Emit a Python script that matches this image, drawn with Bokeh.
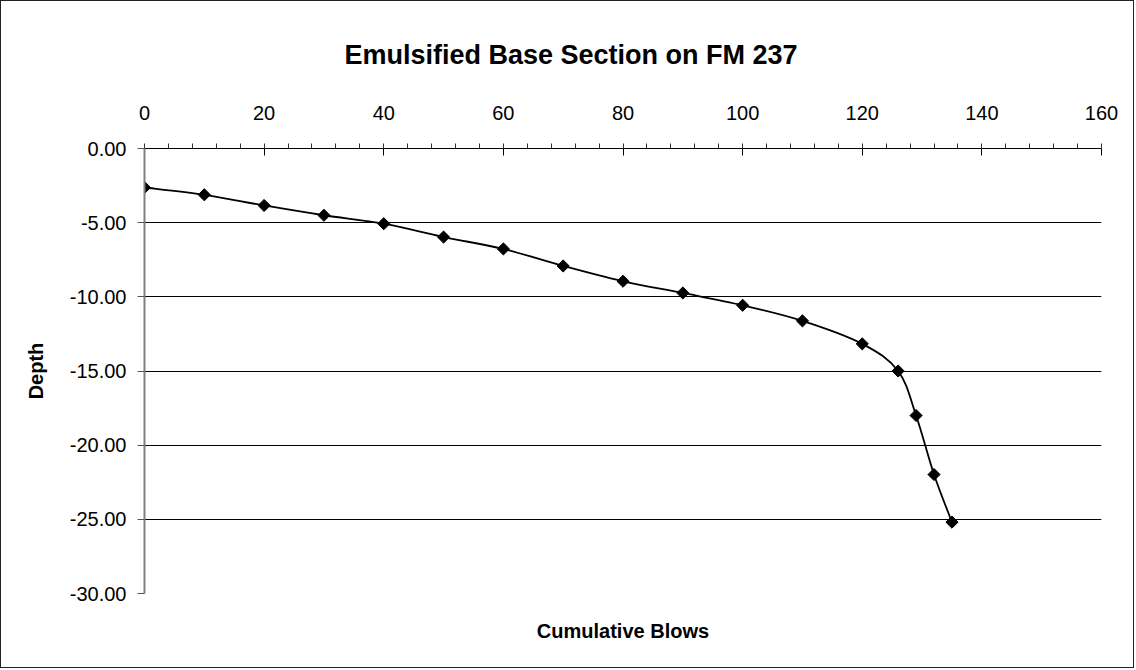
import numpy as np
from bokeh.plotting import figure
from bokeh.models import Range1d, FixedTicker, NumeralTickFormatter, Title, Grid
from bokeh.embed import file_html
from bokeh.resources import INLINE

# ---- data ----
blows = [0, 10, 20, 30, 40, 50, 60, 70, 80, 90, 100, 110, 120, 126, 129, 132, 135]
depth = [-2.63, -3.12, -3.84, -4.50, -5.07, -5.97, -6.77, -7.92, -8.95, -9.74,
         -10.57, -11.62, -13.17, -15.00, -18.00, -21.98, -25.19]
x_ticks = [0, 20, 40, 60, 80, 100, 120, 140, 160]
y_ticks = [0, -5, -10, -15, -20, -25, -30]
title_text = "Emulsified Base Section on FM 237"
x_title = "Cumulative Blows"
y_title = "Depth"

FONT = "Liberation Sans"

p = figure(width=1134, height=668,
           x_range=Range1d(x_ticks[0], x_ticks[-1]),
           y_range=Range1d(y_ticks[-1], y_ticks[0]),
           x_axis_location="above",
           output_backend="svg", toolbar_location=None,
           min_border_left=143, min_border_right=34,
           min_border_top=147, min_border_bottom=76)
p.styles = {"border": "1px solid #222"}
p.background_fill_color = "white"
p.border_fill_color = "white"
p.outline_line_color = None

# title
p.title.text = title_text
p.title.align = "left"
p.title.offset = 200
p.title.text_font = FONT
p.title.text_font_size = "27px"
p.title.text_font_style = "bold"
p.title.text_color = "black"
p.title.standoff = 66

# bottom axis title
p.add_layout(Title(text=x_title, align="center", text_font=FONT,
                   text_font_size="20px", text_font_style="bold",
                   text_color="black", standoff=48), "below")

# x axis (top)
xa = p.xaxis[0]
xa.ticker = FixedTicker(ticks=x_ticks, minor_ticks=list(range(x_ticks[0], x_ticks[-1] + 1, 4)))
xa.major_label_text_font = FONT
xa.major_label_text_font_size = "20px"
xa.major_label_text_color = "black"
xa.major_label_standoff = 24
xa.axis_line_color = "black"
xa.axis_line_width = 1
xa.major_tick_in = 7
xa.major_tick_out = 0
xa.major_tick_line_color = "black"
xa.minor_tick_in = 0
xa.minor_tick_out = 5
xa.minor_tick_line_color = "#333333"

# y axis
ya = p.yaxis[0]
ya.ticker = FixedTicker(ticks=y_ticks, minor_ticks=[])
ya.formatter = NumeralTickFormatter(format="0.00")
ya.major_label_text_font = FONT
ya.major_label_text_font_size = "20px"
ya.major_label_text_color = "black"
ya.major_label_standoff = 11
ya.axis_line_color = "#808080"
ya.axis_line_width = 2
ya.major_tick_in = 0
ya.major_tick_out = 7
ya.major_tick_line_color = "#555555"
ya.axis_label = y_title
ya.axis_label_text_font = FONT
ya.axis_label_text_font_size = "20px"
ya.axis_label_text_font_style = "bold"
ya.axis_label_text_color = "black"
ya.axis_label_standoff = 20

# grids
p.xgrid.visible = False
p.ygrid.ticker = FixedTicker(ticks=y_ticks[1:-1], minor_ticks=[])
p.ygrid.grid_line_color = "black"
p.ygrid.grid_line_width = 1
p.add_layout(Grid(dimension=1, ticker=FixedTicker(ticks=[y_ticks[-1]], minor_ticks=[]),
                  grid_line_color="#e0e0e0", grid_line_width=1.5))

# smoothed line (Catmull-Rom style bezier through the data points)
xs = np.array(blows, dtype=float)
ys = np.array(depth, dtype=float)
n = len(xs)
x0, y0, x1, y1, cx0, cy0, cx1, cy1 = [], [], [], [], [], [], [], []
for i in range(n - 1):
    im1 = max(i - 1, 0)
    ip2 = min(i + 2, n - 1)
    x0.append(xs[i]); y0.append(ys[i])
    x1.append(xs[i + 1]); y1.append(ys[i + 1])
    cx0.append(xs[i] + (xs[i + 1] - xs[im1]) / 6.0)
    cy0.append(ys[i] + (ys[i + 1] - ys[im1]) / 6.0)
    cx1.append(xs[i + 1] - (xs[ip2] - xs[i]) / 6.0)
    cy1.append(ys[i + 1] - (ys[ip2] - ys[i]) / 6.0)
p.bezier(x0=x0, y0=y0, x1=x1, y1=y1, cx0=cx0, cy0=cy0, cx1=cx1, cy1=cy1,
         line_color="black", line_width=1.8)

# diamond markers
p.scatter(blows, depth, marker="square", angle=np.pi / 4, size=8.6,
          fill_color="black", line_color="black", line_width=1)

open("out.html", "w").write(file_html(p, INLINE))
